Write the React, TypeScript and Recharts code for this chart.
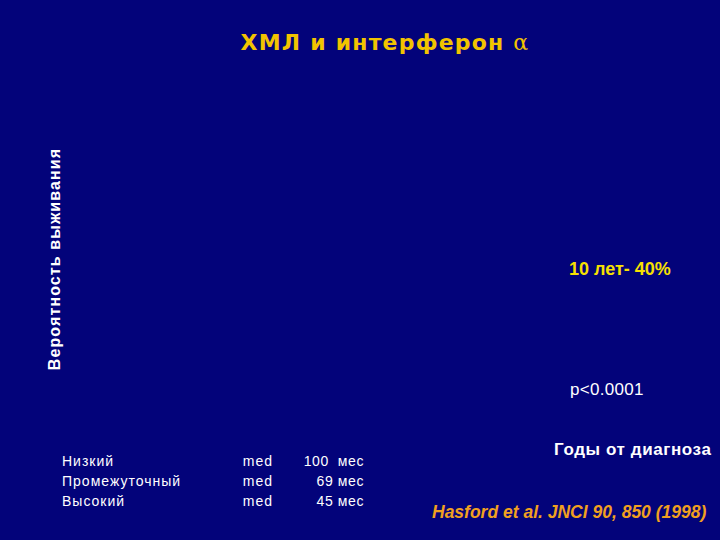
import React from "react";
import { LineChart, XAxis, YAxis, Label } from "recharts";

// risk groups and their median survival (months)
const groups = ["Низкий", "Промежуточный", "Высокий"];
const medians = ["100  мес", "69 мес", "45 мес"];
const years = [0, 2, 4, 6, 8, 10];

const chartData = years.map((y) => ({ year: y }));

const BG = "#03037a";
const sans = "'Liberation Sans', Arial, sans-serif";

const YLabel = ({ viewBox }: any) => {
  const cx = viewBox.x + 20;
  const cy = viewBox.y + viewBox.height / 2;
  return (
    <text
      x={cx}
      y={cy}
      transform={`rotate(-90, ${cx}, ${cy})`}
      textAnchor="middle"
      fill="#ffffff"
      fontFamily={sans}
      fontWeight="bold"
      fontSize={16}
      letterSpacing={1.1}>
      Вероятность выживания
    </text>
  );
};

const txt = (style: React.CSSProperties): React.CSSProperties => ({
  position: "absolute",
  fontFamily: sans,
  whiteSpace: "pre",
  lineHeight: 1,
  ...style,
});

export default function App() {
  return (
    <div
      style={{
        position: "absolute",
        left: 0,
        top: 0,
        width: 720,
        height: 540,
        background: BG,
        overflow: "hidden",
      }}>
      <LineChart
        width={720}
        height={540}
        data={chartData}
        margin={{ top: 80, right: 10, bottom: 102, left: 40 }}>
        <XAxis dataKey="year" type="number" domain={[0, 10]} hide />
        <YAxis
          type="number"
          domain={[0, 1]}
          width={30}
          tick={false}
          axisLine={false}
          tickLine={false}>
          <Label content={<YLabel />} />
        </YAxis>
      </LineChart>

      <div
        style={txt({
          left: 0,
          width: 770,
          top: 32,
          textAlign: "center",
          fontFamily: "'DejaVu Sans', Verdana, sans-serif",
          fontWeight: "bold",
          fontSize: 22,
          letterSpacing: 1.2,
          color: "#f2c400",
        })}>
        ХМЛ и интерферон{" "}
        <span style={{ fontFamily: "'DejaVu Serif', serif", fontWeight: "normal" }}>α</span>
      </div>

      <div style={txt({ left: 569, top: 260, fontWeight: "bold", fontSize: 18, color: "#f7e000" })}>
        10 лет- 40%
      </div>
      <div style={txt({ left: 570, top: 381, fontSize: 17, letterSpacing: 0.3, color: "#ffffff" })}>
        p&lt;0.0001
      </div>
      <div
        style={txt({
          left: 554,
          top: 441,
          fontWeight: "bold",
          fontSize: 17,
          letterSpacing: 0.6,
          color: "#ffffff",
        })}>
        Годы от диагноза
      </div>
      <div
        style={txt({
          left: 432,
          top: 504,
          fontWeight: "bold",
          fontStyle: "italic",
          fontSize: 17.5,
          color: "#f0a020",
        })}>
        Hasford et al. JNCI 90, 850 (1998)
      </div>

      {groups.map((g, i) => (
        <React.Fragment key={g}>
          <div
            style={txt({
              left: 62,
              top: 454 + i * 20,
              fontSize: 14,
              letterSpacing: 1,
              color: "#ffffff",
            })}>
            {g}
          </div>
          <div
            style={txt({
              left: 200,
              width: 73,
              textAlign: "right",
              top: 454 + i * 20,
              fontSize: 14,
              letterSpacing: 1,
              color: "#ffffff",
            })}>
            med
          </div>
          <div
            style={txt({
              left: 280,
              width: 84,
              textAlign: "right",
              top: 454 + i * 20,
              fontSize: 14,
              letterSpacing: 0.6,
              color: "#ffffff",
            })}>
            {medians[i]}
          </div>
        </React.Fragment>
      ))}
    </div>
  );
}
